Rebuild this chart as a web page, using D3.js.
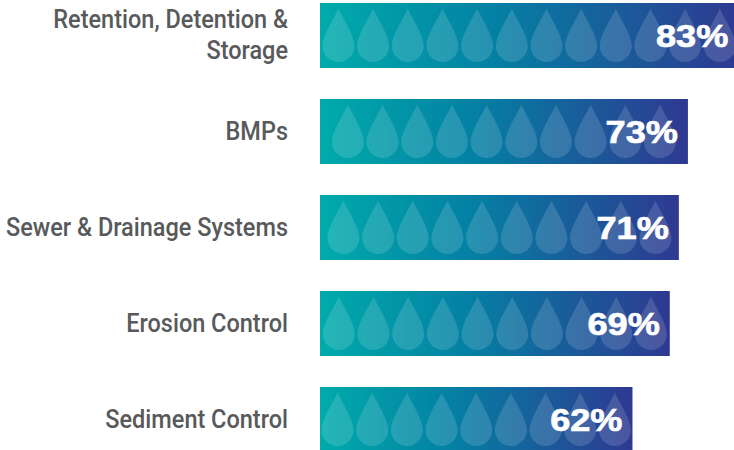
<!DOCTYPE html>
<html>
<head>
<meta charset="utf-8">
<script src="https://cdn.jsdelivr.net/npm/d3@7"></script>
<style>
  html, body { margin: 0; padding: 0; background: #fff; overflow: hidden; }
  .domain { display: none; }
</style>
</head>
<body>
<div id="chart"></div>
<script>
const WIDTH = 734;
const HEIGHT = 450;

const categories = ["Retention, Detention & Storage", "BMPs", "Sewer & Drainage Systems", "Erosion Control", "Sediment Control"];
const labelLines = [["Retention, Detention &", "Storage"], ["BMPs"], ["Sewer & Drainage Systems"], ["Erosion Control"], ["Sediment Control"]];
const values = [83, 73, 71.2, 69.4, 62];
const valueLabels = ["83%", "73%", "71%", "69%", "62%"];

const BAR_LEFT = 320;
const PX_PER_POINT = 5.04;
const DROP_STEP = 34.67;
const LABEL_SQUEEZE = 0.94;
const VALUE_STRETCH = 1.13;

const SVG = d3.select("#chart")
    .append("svg")
    .attr("width", WIDTH)
    .attr("height", HEIGHT)
    .style("display", "block");

const x = d3.scaleLinear()
    .domain([0, 100])
    .range([BAR_LEFT, BAR_LEFT + 100 * PX_PER_POINT]);

const y = d3.scaleBand()
    .domain(categories)
    .range([3, 452])
    .paddingInner(31 / 96)
    .paddingOuter(0);

const gradient = SVG.append("defs")
    .append("linearGradient")
    .attr("id", "barFill");

gradient.selectAll("stop")
    .data([["0%", "#00abab"], ["42%", "#0480a4"], ["100%", "#2e3991"]])
    .enter()
    .append("stop")
    .attr("offset", d => d[0])
    .attr("stop-color", d => d[1]);

const rows = SVG.selectAll(".row")
    .data(categories.map((name, i) => ({ name, value: values[i], label: valueLabels[i] })))
    .enter()
    .append("g")
    .attr("class", "row");

rows.append("rect")
    .attr("x", x(0))
    .attr("y", d => y(d.name))
    .attr("width", d => x(d.value) - x(0))
    .attr("height", y.bandwidth())
    .attr("fill", "url(#barFill)");

// teardrop drawn around its own round part, tip pointing up
const dropPath = () => {
    const p = d3.path();
    p.moveTo(0, -37.3);
    p.bezierCurveTo(-5, -27, -16, -10, -16, 0);
    p.arc(0, 0, 16, Math.PI, 0, true);
    p.bezierCurveTo(16, -10, 5, -27, 0, -37.3);
    p.closePath();
    return p.toString();
};

// as many whole drops as fit, centred on the bar
rows.each(function (d) {
    const barWidth = x(d.value) - x(0);
    const count = Math.floor(barWidth / DROP_STEP);
    const start = x(0) + (barWidth - count * DROP_STEP) / 2 + DROP_STEP / 2;
    d3.select(this)
        .selectAll(".drop")
        .data(d3.range(count))
        .enter()
        .append("path")
        .attr("class", "drop")
        .attr("d", dropPath())
        .attr("transform", i => `translate(${start + i * DROP_STEP}, ${y(d.name) + 43})`)
        .attr("fill", "#fff")
        .attr("fill-opacity", 0.14);
});

rows.append("text")
    .attr("transform", d => `translate(${x(d.value) - 10}, ${y(d.name) + y.bandwidth() / 2 + 11.5}) scale(${VALUE_STRETCH}, 1)`)
    .attr("text-anchor", "end")
    .attr("font-family", "'Liberation Sans', sans-serif")
    .attr("font-weight", 700)
    .attr("font-size", 32)
    .attr("fill", "#fff")
    .attr("stroke", "#fff")
    .attr("stroke-width", 0.7)
    .text(d => d.label);

const axis = SVG.append("g")
    .attr("transform", `translate(${BAR_LEFT}, 0)`)
    .call(d3.axisLeft(y).tickSize(0));

axis.selectAll(".tick text").each(function (name) {
    const lines = labelLines[categories.indexOf(name)];
    const text = d3.select(this)
        .text(null)
        .attr("x", null)
        .attr("dy", null)
        .attr("y", null)
        .attr("text-anchor", "end")
        .attr("transform", `translate(-32, 0) scale(${LABEL_SQUEEZE}, 1)`)
        .attr("font-family", "Roboto, sans-serif")
        .attr("font-weight", 500)
        .attr("font-size", 25)
        .attr("fill", "#58595b");
    lines.forEach((line, i) => {
        text.append("tspan")
            .attr("x", 0)
            .attr("y", 8 + (i - (lines.length - 1) / 2) * 32)
            .text(line);
    });
});
</script>
</body>
</html>
